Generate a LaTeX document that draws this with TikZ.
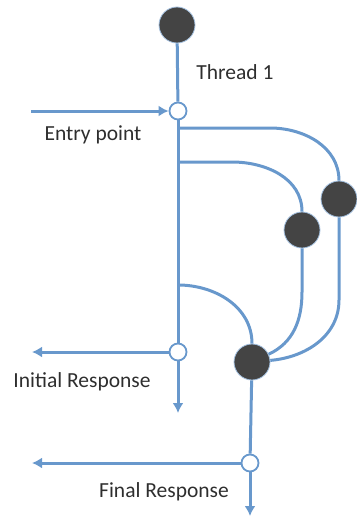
\documentclass[tikz,border=0pt]{standalone}
\usepackage{fontspec}
\setmainfont{Carlito}
\usetikzlibrary{arrows.meta}
\definecolor{lineblue}{HTML}{6898CC}
\definecolor{darkdot}{HTML}{444444}
\definecolor{txt}{HTML}{2E2E2E}
\begin{document}
\begin{tikzpicture}[x=1pt,y=-1pt,
  flow/.style={draw=lineblue,line width=3pt},
  arr/.style={flow,-{Latex[length=10pt,width=11pt]}},
  dot/.style={circle,fill=darkdot,draw=lineblue!60,line width=0.8pt,minimum size=36pt,inner sep=0pt},
  port/.style={circle,fill=white,draw=lineblue,line width=1.8pt,minimum size=17pt,inner sep=0pt},
  lbl/.style={text=txt,font=\fontsize{21.5}{25}\selectfont,inner sep=0pt}]
\useasboundingbox (0,0) rectangle (356,519);
% nodes
\node[dot] (t1) at (177,25) {};
\node[dot] (w1) at (339,199) {};
\node[dot] (w2) at (302,230) {};
\node[dot] (j) at (252,362) {};
\node[port] (ep) at (178,111) {};
\node[port] (ir) at (178,352) {};
\node[port] (fr) at (250,463) {};
% coordinates
\coordinate (in) at (31,111);
\coordinate (b1) at (178,128);
\coordinate (b2) at (178,162);
\coordinate (b3) at (178,285);
\coordinate (irl) at (32,352);
\coordinate (ird) at (178,413);
\coordinate (frl) at (32,463);
\coordinate (frd) at (250,516);
% connectors
\draw[flow] (t1) -- (ep);
\draw[arr] (in) -- (ep);
\draw[flow] (ep) -- (ir);
\draw[flow] (b1) -- (270,128) to[out=0,in=90] (w1);
\draw[flow] (b2) -- (232,162) to[out=0,in=90] (w2);
\draw[flow] (b3) to[out=0,in=90] (j);
\draw[flow] (w2) -- (302,292) to[out=-90,in=25] (j);
\draw[flow] (w1) -- (339,300) to[out=-90,in=5] (j);
\draw[arr] (ir) -- (irl);
\draw[arr] (ir) -- (ird);
\draw[flow] (j) -- (fr);
\draw[arr] (fr) -- (frl);
\draw[arr] (fr) -- (frd);
% labels
\node[lbl] (l1) at (235,72) {Thread 1};
\node[lbl] (l2) at (93,135) {Entry point};
\node[lbl] (l3) at (82,382) {Initial Response};
\node[lbl] (l4) at (164,492) {Final Response};
\end{tikzpicture}
\end{document}
